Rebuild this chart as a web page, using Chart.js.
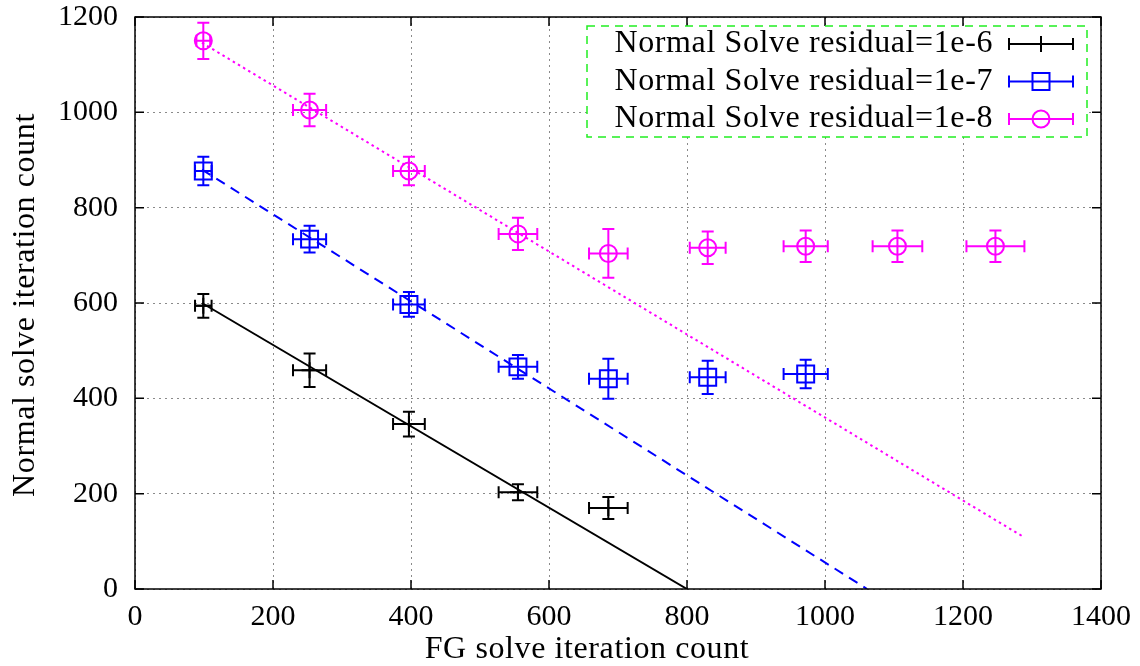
<!DOCTYPE html>
<html>
<head>
<meta charset="utf-8">
<script src="https://cdn.jsdelivr.net/npm/chart.js@4.4.0/dist/chart.umd.min.js"></script>
<style>
  html, body { margin: 0; padding: 0; background: #fff; }
</style>
</head>
<body>
<canvas id="chart" width="1140" height="666"></canvas>
<script>
const xTicks = [0, 200, 400, 600, 800, 1000, 1200, 1400];
const yTicks = [0, 200, 400, 600, 800, 1000, 1200];
const xTitle = "FG solve iteration count";
const yTitle = "Normal solve iteration count";
const seriesNames = [
  "Normal Solve residual=1e-6",
  "Normal Solve residual=1e-7",
  "Normal Solve residual=1e-8",
];

// residual 1e-6
const fg6 = [99, 253, 397, 555, 686];
const normal6 = [594, 459, 346, 203, 170];
const fgErr6 = [12, 24, 23, 28, 28];
const normalErr6 = [25, 35, 26, 17, 23];
const fitX6 = [97, 800];
const fitY6 = [600, 0];

// residual 1e-7
const fg7 = [99, 253, 397, 555, 686, 830, 972];
const normal7 = [877, 734, 597, 466, 441, 444, 451];
const fgErr7 = [12, 24, 23, 28, 28, 26, 32];
const normalErr7 = [30, 28, 26, 25, 42, 35, 30];
const fitX7 = [97, 1061];
const fitY7 = [880, 0];

// residual 1e-8
const fg8 = [99, 253, 397, 555, 686, 830, 972, 1105, 1247];
const normal8 = [1150, 1005, 877, 745, 704, 716, 719, 719, 719];
const fgErr8 = [10, 24, 23, 28, 28, 26, 32, 36, 42];
const normalErr8 = [38, 34, 30, 34, 51, 34, 33, 33, 33];
const fitX8 = [97, 1288];
const fitY8 = [1146, 109];

const SERIF = '"Liberation Serif", "Times New Roman", serif';
const colors = ["#000000", "#0000ff", "#ff00ff"];
const markers = ["cross", "rect", "circle"];
const CAP = 6;

const toPoints = (xs, ys) => xs.map((x, i) => ({ x, y: ys[i] }));

const drawMarker = (ctx, style, x, y) => {
  ctx.beginPath();
  if (style === "cross") {
    ctx.moveTo(x - 8, y);
    ctx.lineTo(x + 8, y);
    ctx.moveTo(x, y - 8);
    ctx.lineTo(x, y + 8);
  } else if (style === "rect") {
    ctx.rect(x - 8.5, y - 8.5, 17, 17);
  } else {
    ctx.arc(x, y, 8.5, 0, Math.PI * 2);
  }
  ctx.stroke();
};

const errorBars = {
  id: "errorBars",
  afterDatasetsDraw(chart) {
    const { ctx } = chart;
    const xs = chart.scales.x;
    const ys = chart.scales.y;
    chart.data.datasets.forEach((ds) => {
      if (!ds.xErr) return;
      ctx.save();
      ctx.strokeStyle = ds.borderColor;
      ctx.lineWidth = 2;
      ds.data.forEach((p, i) => {
        const px = xs.getPixelForValue(p.x);
        const py = ys.getPixelForValue(p.y);
        const x0 = xs.getPixelForValue(p.x - ds.xErr[i]);
        const x1 = xs.getPixelForValue(p.x + ds.xErr[i]);
        const y0 = ys.getPixelForValue(p.y - ds.yErr[i]);
        const y1 = ys.getPixelForValue(p.y + ds.yErr[i]);
        ctx.beginPath();
        ctx.moveTo(x0, py);
        ctx.lineTo(x1, py);
        ctx.moveTo(x0, py - CAP);
        ctx.lineTo(x0, py + CAP);
        ctx.moveTo(x1, py - CAP);
        ctx.lineTo(x1, py + CAP);
        ctx.moveTo(px, y0);
        ctx.lineTo(px, y1);
        ctx.moveTo(px - CAP, y0);
        ctx.lineTo(px + CAP, y0);
        ctx.moveTo(px - CAP, y1);
        ctx.lineTo(px + CAP, y1);
        ctx.stroke();
      });
      ctx.restore();
    });
  },
};

const frame = {
  id: "frame",
  afterDraw(chart) {
    const { ctx, chartArea: a } = chart;
    const xs = chart.scales.x;
    const ys = chart.scales.y;
    ctx.save();

    // border and inward ticks on all sides
    ctx.strokeStyle = "#000";
    ctx.lineWidth = 1.5;
    ctx.strokeRect(a.left, a.top, a.right - a.left, a.bottom - a.top);
    ctx.beginPath();
    xTicks.forEach((v) => {
      const px = xs.getPixelForValue(v);
      ctx.moveTo(px, a.bottom);
      ctx.lineTo(px, a.bottom - 9);
      ctx.moveTo(px, a.top);
      ctx.lineTo(px, a.top + 9);
    });
    yTicks.forEach((v) => {
      const py = ys.getPixelForValue(v);
      ctx.moveTo(a.left, py);
      ctx.lineTo(a.left + 9, py);
      ctx.moveTo(a.right, py);
      ctx.lineTo(a.right - 9, py);
    });
    ctx.stroke();

    // axis titles
    ctx.fillStyle = "#000";
    ctx.font = "32px " + SERIF;
    ctx.letterSpacing = "0.6px";
    ctx.textAlign = "center";
    ctx.textBaseline = "alphabetic";
    ctx.fillText(xTitle, (a.left + a.right) / 2 - 31, 658);
    ctx.save();
    ctx.translate(34, (a.top + a.bottom) / 2 + 2);
    ctx.rotate(-Math.PI / 2);
    ctx.fillText(yTitle, 0, 0);
    ctx.restore();

    // key box
    const kr = a.right - 14;
    const kl = kr - 500;
    const kt = a.top + 9;
    const kb = kt + 111;
    ctx.fillStyle = "#fff";
    ctx.fillRect(kl, kt, kr - kl, kb - kt);
    ctx.strokeStyle = "#22ee22";
    ctx.lineWidth = 1.5;
    ctx.setLineDash([8, 6]);
    ctx.strokeRect(kl, kt, kr - kl, kb - kt);
    ctx.setLineDash([]);

    seriesNames.forEach((name, i) => {
      const ry = kt + 18 + i * 37.5;
      ctx.fillStyle = "#000";
      ctx.textAlign = "right";
      ctx.fillText(name, kr - 94, ry + 8);
      const s0 = kr - 78;
      const s1 = kr - 14;
      ctx.strokeStyle = colors[i];
      ctx.lineWidth = 2;
      ctx.beginPath();
      ctx.moveTo(s0, ry);
      ctx.lineTo(s1, ry);
      ctx.moveTo(s0, ry - CAP);
      ctx.lineTo(s0, ry + CAP);
      ctx.moveTo(s1, ry - CAP);
      ctx.lineTo(s1, ry + CAP);
      ctx.stroke();
      drawMarker(ctx, markers[i], (s0 + s1) / 2, ry);
    });

    ctx.restore();
  },
};

const fitLine = (xs, ys, color, dash) => ({
  data: toPoints(xs, ys),
  showLine: true,
  borderColor: color,
  borderWidth: 2,
  borderDash: dash,
  pointRadius: 0,
  fill: false,
});

const pointSet = (xs, ys, xErr, yErr, i, radius) => ({
  data: toPoints(xs, ys),
  xErr,
  yErr,
  showLine: false,
  borderColor: colors[i],
  pointBorderColor: colors[i],
  pointBackgroundColor: "rgba(0,0,0,0)",
  pointBorderWidth: 2,
  pointStyle: markers[i],
  pointRadius: radius,
});

const ctx = document.getElementById("chart").getContext("2d");

new Chart(ctx, {
  type: "scatter",
  data: {
    datasets: [
      fitLine(fitX6, fitY6, colors[0], []),
      fitLine(fitX7, fitY7, colors[1], [10, 7]),
      fitLine(fitX8, fitY8, colors[2], [2.5, 3.5]),
      pointSet(fg6, normal6, fgErr6, normalErr6, 0, 8),
      pointSet(fg7, normal7, fgErr7, normalErr7, 1, 12),
      pointSet(fg8, normal8, fgErr8, normalErr8, 2, 8.5),
    ],
  },
  options: {
    responsive: false,
    animation: false,
    devicePixelRatio: 1,
    events: [],
    layout: {
      padding: { left: 0, right: 39, top: 17, bottom: 0 },
    },
    scales: {
      x: {
        type: "linear",
        min: 0,
        max: 1400,
        afterFit: (scale) => {
          scale.height = 77;
          scale.paddingLeft = 0;
          scale.paddingRight = 0;
        },
        afterBuildTicks: (scale) => {
          scale.ticks = xTicks.map((v) => ({ value: v }));
        },
        ticks: {
          color: "#000",
          font: { family: SERIF, size: 30 },
          padding: 10,
          maxRotation: 0,
          callback: (v) => String(v),
        },
        grid: { color: "#8a8a8a", lineWidth: 1, drawTicks: false },
        border: { display: false, dash: [2, 4] },
      },
      y: {
        type: "linear",
        min: 0,
        max: 1200,
        afterFit: (scale) => {
          scale.width = 135;
          scale.paddingTop = 0;
          scale.paddingBottom = 0;
        },
        afterBuildTicks: (scale) => {
          scale.ticks = yTicks.map((v) => ({ value: v }));
        },
        ticks: {
          color: "#000",
          font: { family: SERIF, size: 30 },
          padding: 17,
          callback: (v) => String(v),
        },
        grid: { color: "#8a8a8a", lineWidth: 1, drawTicks: false },
        border: { display: false, dash: [2, 4] },
      },
    },
    plugins: {
      legend: { display: false },
      tooltip: { enabled: false },
    },
  },
  plugins: [errorBars, frame],
});
</script>
</body>
</html>
